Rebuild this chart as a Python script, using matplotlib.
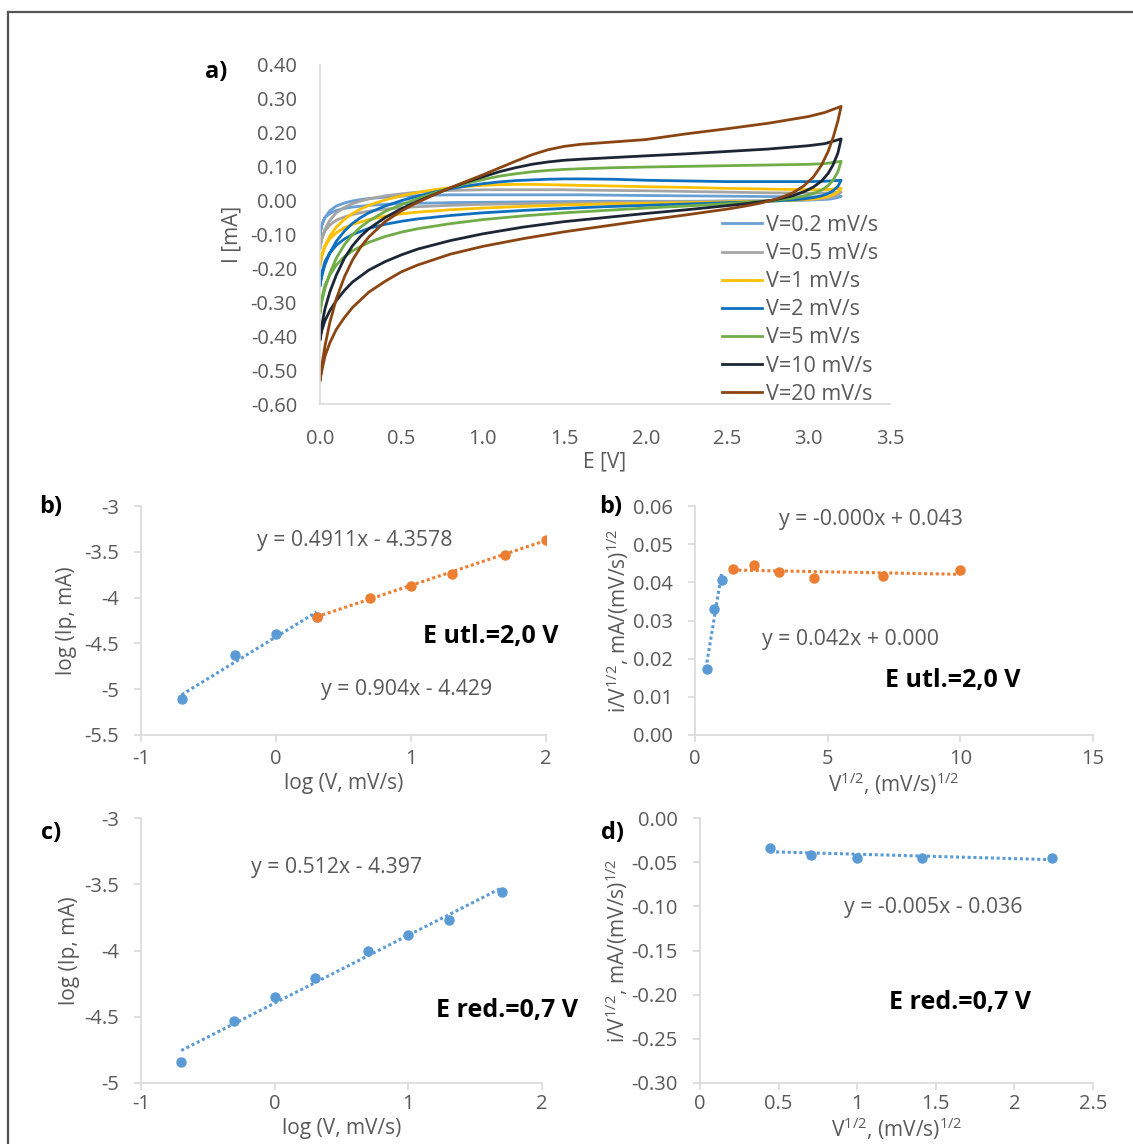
import numpy as np
import matplotlib
matplotlib.use("Agg")
import matplotlib.pyplot as plt
from matplotlib.lines import Line2D

plt.rcParams["font.family"] = ["Open Sans", "DejaVu Sans"]
plt.rcParams["axes.unicode_minus"] = False
plt.rcParams["mathtext.fontset"] = "custom"
plt.rcParams["mathtext.rm"] = "Open Sans"

# ---------------- a) cyclic voltammograms ----------------
scan_labels = ["V=0.2 mV/s", "V=0.5 mV/s", "V=1 mV/s", "V=2 mV/s",
               "V=5 mV/s", "V=10 mV/s", "V=20 mV/s"]
scan_colors = ["#6A9FD4", "#A5A5A5", "#FFC000", "#0E70BE",
               "#70AD47", "#1C2635", "#8A4512"]

# forward (anodic) sweep potentials, V
E_fwd = [0.0, 0.01, 0.03, 0.06, 0.1, 0.15, 0.2, 0.25, 0.3, 0.4, 0.5, 0.6, 0.7,
         0.8, 0.9, 1.0, 1.1, 1.2, 1.3, 1.4, 1.5, 1.6, 1.8, 2.0, 2.25, 2.5,
         2.75, 3.0, 3.1, 3.2]
# reverse (cathodic) sweep potentials, V
E_rev = [3.2, 3.18, 3.15, 3.12, 3.08, 3.03, 2.97, 2.9, 2.8, 2.7, 2.6, 2.5,
         2.25, 2.0, 1.75, 1.5, 1.25, 1.0, 0.8, 0.6, 0.5, 0.4, 0.3, 0.2, 0.15,
         0.1, 0.06, 0.03, 0.01, 0.0]

# current on the forward sweep, mA
I_fwd = [
    [-0.10, -0.075, -0.05, -0.03, -0.016, -0.007, -0.001, 0.003, 0.006, 0.010,
     0.013, 0.015, 0.016, 0.017, 0.017, 0.017, 0.017, 0.017, 0.017, 0.017,
     0.017, 0.017, 0.016, 0.015, 0.014, 0.013, 0.012, 0.011, 0.011, 0.013],
    [-0.14, -0.115, -0.085, -0.058, -0.036, -0.020, -0.009, -0.001, 0.005, 0.014,
     0.020, 0.025, 0.028, 0.030, 0.031, 0.032, 0.032, 0.032, 0.032, 0.032,
     0.032, 0.031, 0.030, 0.029, 0.027, 0.025, 0.023, 0.022, 0.022, 0.025],
    [-0.19, -0.165, -0.135, -0.105, -0.078, -0.055, -0.038, -0.025, -0.014, 0.002,
     0.014, 0.024, 0.032, 0.038, 0.042, 0.045, 0.047, 0.048, 0.048, 0.047,
     0.046, 0.045, 0.043, 0.041, 0.039, 0.036, 0.034, 0.032, 0.032, 0.036],
    [-0.25, -0.225, -0.19, -0.155, -0.12, -0.09, -0.067, -0.05, -0.036, -0.016,
     0.0, 0.013, 0.025, 0.035, 0.043, 0.050, 0.055, 0.059, 0.061, 0.063,
     0.064, 0.064, 0.063, 0.060, 0.058, 0.056, 0.056, 0.056, 0.057, 0.060],
    [-0.33, -0.30, -0.26, -0.215, -0.17, -0.13, -0.10, -0.078, -0.06, -0.032,
     -0.012, 0.006, 0.022, 0.037, 0.051, 0.062, 0.072, 0.079, 0.085, 0.089,
     0.092, 0.094, 0.097, 0.099, 0.101, 0.103, 0.105, 0.107, 0.109, 0.116],
    [-0.41, -0.37, -0.32, -0.27, -0.22, -0.17, -0.133, -0.105, -0.083, -0.05,
     -0.024, -0.002, 0.018, 0.037, 0.055, 0.070, 0.085, 0.097, 0.107, 0.114,
     0.119, 0.122, 0.127, 0.132, 0.138, 0.145, 0.152, 0.162, 0.168, 0.182],
    [-0.53, -0.49, -0.43, -0.36, -0.29, -0.225, -0.175, -0.137, -0.107, -0.062,
     -0.030, -0.005, 0.017, 0.038, 0.057, 0.076, 0.096, 0.116, 0.135, 0.150,
     0.160, 0.166, 0.173, 0.180, 0.197, 0.212, 0.228, 0.248, 0.260, 0.278],
]
# current on the reverse sweep, mA
I_rev = [
    [0.013, 0.009, 0.006, 0.004, 0.003, 0.002, 0.001, 0.0, 0.0, -0.001,
     -0.001, -0.001, -0.002, -0.002, -0.002, -0.003, -0.004, -0.005, -0.006, -0.008,
     -0.009, -0.011, -0.014, -0.019, -0.023, -0.029, -0.038, -0.05, -0.072, -0.10],
    [0.025, 0.017, 0.011, 0.008, 0.005, 0.003, 0.002, 0.001, 0.0, -0.001,
     -0.001, -0.002, -0.003, -0.004, -0.005, -0.007, -0.009, -0.011, -0.014, -0.018,
     -0.021, -0.025, -0.031, -0.041, -0.048, -0.058, -0.072, -0.09, -0.113, -0.14],
    [0.036, 0.025, 0.017, 0.012, 0.008, 0.005, 0.003, 0.001, -0.001, -0.002,
     -0.003, -0.004, -0.006, -0.008, -0.010, -0.013, -0.017, -0.022, -0.027, -0.034,
     -0.039, -0.046, -0.056, -0.07, -0.08, -0.095, -0.113, -0.135, -0.162, -0.19],
    [0.060, 0.042, 0.029, 0.021, 0.014, 0.009, 0.005, 0.002, -0.001, -0.003,
     -0.005, -0.006, -0.010, -0.014, -0.018, -0.023, -0.029, -0.036, -0.044, -0.054,
     -0.061, -0.07, -0.082, -0.10, -0.113, -0.132, -0.155, -0.18, -0.215, -0.25],
    [0.116, 0.085, 0.06, 0.044, 0.031, 0.021, 0.013, 0.007, 0.001, -0.003,
     -0.006, -0.009, -0.016, -0.022, -0.029, -0.036, -0.045, -0.056, -0.068, -0.083,
     -0.093, -0.106, -0.123, -0.148, -0.165, -0.19, -0.22, -0.25, -0.29, -0.33],
    [0.182, 0.14, 0.105, 0.08, 0.058, 0.04, 0.026, 0.014, 0.003, -0.004,
     -0.010, -0.015, -0.027, -0.038, -0.05, -0.062, -0.078, -0.098, -0.118, -0.143,
     -0.16, -0.18, -0.205, -0.24, -0.265, -0.295, -0.325, -0.355, -0.385, -0.41],
    [0.278, 0.235, 0.185, 0.145, 0.105, 0.07, 0.043, 0.022, 0.004, -0.008,
     -0.017, -0.025, -0.042, -0.058, -0.075, -0.092, -0.112, -0.135, -0.158, -0.19,
     -0.21, -0.238, -0.27, -0.315, -0.345, -0.38, -0.42, -0.46, -0.505, -0.53],
]

# ---------------- kinetics data ----------------
rate = [0.2, 0.5, 1, 2, 5, 10, 20, 50, 100]          # mV/s
log_rate = list(np.log10(rate))
sqrt_rate = list(np.sqrt(rate))

# b) oxidation, E = 2.0 V
logI_ox_low = [-5.11, -4.63, -4.40, -4.21]          # V = 0.2 ... 2
logI_ox_high = [-4.21, -4.00, -3.87, -3.74, -3.535, -3.37]  # V = 2 ... 100
fit_ox_low = (0.904, -4.429)
fit_ox_high = (0.4911, -4.3578)

iv_ox_low = [0.0172, 0.0331, 0.0406]                 # V = 0.2 ... 1
iv_ox_high = [0.0434, 0.0446, 0.0427, 0.0411, 0.0416, 0.0433]  # V = 2 ... 100
fit_iv_low = (0.042, 0.0002)
fit_iv_high = (-0.00013, 0.0434)

# c) / d) reduction, E = 0.7 V
logI_red = [-4.84, -4.535, -4.35, -4.21, -4.00, -3.88, -3.77, -3.555]  # V = 0.2 ... 50
fit_red = (0.512, -4.397)
iv_red = [-0.0335, -0.0415, -0.0455, -0.0448, -0.0455]    # V = 0.2 ... 5
fit_iv_red = (-0.005, -0.036)

BLUE = "#5B9BD5"
ORANGE = "#ED7D31"
GREY_TXT = "#595959"
SPINE = "#D9D9D9"
TICK_FS = 14.5
LABEL_FS = 15
EQ_FS = 15.3
NOTE_FS = 18
LETTER_FS = 17

W, H = 1133, 1144
fig = plt.figure(figsize=(W / 100, H / 100), dpi=100)


def px_axes(left, top, right, bottom):
    return fig.add_axes([left / W, 1 - bottom / H, (right - left) / W, (bottom - top) / H])


def style(ax, ticklen=5, xpad=5, ypad=11):
    for s in ("top", "right"):
        ax.spines[s].set_visible(False)
    for s in ("left", "bottom"):
        ax.spines[s].set_color(SPINE)
        ax.spines[s].set_linewidth(1.2)
    ax.tick_params(axis="both", colors=SPINE, labelcolor=GREY_TXT, labelsize=TICK_FS,
                   length=ticklen, width=1.2, direction="out")
    ax.tick_params(axis="x", pad=xpad)
    ax.tick_params(axis="y", pad=ypad)


def fmt(nd):
    return lambda v, p: f"{round(v, 6) + 0.0:.{nd}f}"


def fmt_general(v, p):
    return f"{round(v, 6) + 0.0:g}"


def equation(m, b, nd):
    sign = "+" if b >= 0 else "-"
    return f"y = {m:.{nd}f}x {sign} {abs(b):.{nd}f}"


def trend(ax, xs, fit, color):
    x = np.array([min(xs), max(xs)])
    ax.plot(x, fit[0] * x + fit[1], ls=(0, (1, 0.9)), lw=2.2, color=color, zorder=2)


def note(x, y, s, **kw):
    fig.text(x / W, 1 - y / H, s, ha="center", va="center", **kw)


# ---- panel a
ax = px_axes(320, 65, 890, 404)
style(ax, ticklen=0, xpad=18, ypad=16.5)
for lab, col, up, dn in zip(scan_labels, scan_colors, I_fwd, I_rev):
    ax.plot(E_fwd + E_rev, up + dn, color=col, lw=2.0, label=lab,
            solid_joinstyle="round")
ax.set_xlim(0, 3.5)
ax.set_ylim(-0.6, 0.4)
ax.set_xticks(np.arange(0, 3.51, 0.5))
ax.set_yticks(np.arange(-0.6, 0.401, 0.1))
ax.xaxis.set_major_formatter(fmt(1))
ax.yaxis.set_major_formatter(fmt(2))
ax.set_xlabel("E [V]", fontsize=LABEL_FS, color=GREY_TXT, labelpad=2)
ax.set_ylabel("I [mA]", fontsize=LABEL_FS, color=GREY_TXT, labelpad=6)
leg = ax.legend(loc="upper left", bbox_to_anchor=(722 / W, 1 - 215 / H),
                bbox_transform=fig.transFigure, frameon=False, fontsize=15.5,
                handlelength=1.86, handletextpad=0.19, labelspacing=0.33,
                borderpad=0, borderaxespad=0)
for t in leg.get_texts():
    t.set_color(GREY_TXT)
note(216, 72, "a)", fontsize=LETTER_FS, fontweight="bold")

# ---- panel b (left)
ax = px_axes(141, 506, 546, 735)
style(ax)
trend(ax, log_rate[:4], fit_ox_low, BLUE)
trend(ax, log_rate[3:], fit_ox_high, ORANGE)
ax.plot(log_rate[:4], logI_ox_low, "o", color=BLUE, ms=6.5, zorder=3)
ax.plot(log_rate[3:], logI_ox_high, "o", color=ORANGE, ms=6.5, zorder=4)
ax.set_xlim(-1, 2)
ax.set_ylim(-5.5, -3)
ax.set_xticks([-1, 0, 1, 2])
ax.set_yticks(np.arange(-5.5, -2.99, 0.5))
ax.yaxis.set_major_formatter(fmt_general)
ax.set_xlabel("log (V, mV/s)", fontsize=LABEL_FS, color=GREY_TXT, labelpad=3)
ax.set_ylabel("log (Ip, mA)", fontsize=LABEL_FS, color=GREY_TXT, labelpad=5)
note(355, 540, equation(*fit_ox_high, 4), fontsize=EQ_FS, color=GREY_TXT)
note(407, 690, equation(*fit_ox_low, 3), fontsize=EQ_FS, color=GREY_TXT)
note(491, 637, "E utl.=2,0 V", fontsize=NOTE_FS, fontweight="bold")
note(51, 507, "b)", fontsize=LETTER_FS, fontweight="bold")

# ---- panel b (right)
ax = px_axes(695, 506, 1093, 735)
style(ax)
trend(ax, sqrt_rate[:3], fit_iv_low, BLUE)
trend(ax, sqrt_rate[3:], fit_iv_high, ORANGE)
ax.plot(sqrt_rate[:3], iv_ox_low, "o", color=BLUE, ms=6.5, zorder=3)
ax.plot(sqrt_rate[3:], iv_ox_high, "o", color=ORANGE, ms=6.5, zorder=4)
ax.set_xlim(0, 15)
ax.set_ylim(0, 0.06)
ax.set_xticks([0, 5, 10, 15])
ax.set_yticks(np.arange(0, 0.061, 0.01))
ax.yaxis.set_major_formatter(fmt(2))
ax.set_xlabel(r"V$^{\mathregular{1/2}}$, (mV/s)$^{\mathregular{1/2}}$", fontsize=LABEL_FS,
              color=GREY_TXT, labelpad=1)
ax.set_ylabel(r"i/V$^{\mathregular{1/2}}$, mA/(mV/s)$^{\mathregular{1/2}}$", fontsize=LABEL_FS,
              color=GREY_TXT, labelpad=1)
note(871, 520, equation(*fit_iv_high, 3), fontsize=EQ_FS, color=GREY_TXT)
note(850, 639, equation(*fit_iv_low, 3), fontsize=EQ_FS, color=GREY_TXT)
note(953, 681, "E utl.=2,0 V", fontsize=NOTE_FS, fontweight="bold")
note(611, 507, "b)", fontsize=LETTER_FS, fontweight="bold")

# ---- panel c
ax = px_axes(141, 818, 542, 1083)
style(ax, xpad=3)
trend(ax, log_rate[:8], fit_red, BLUE)
ax.plot(log_rate[:8], logI_red, "o", color=BLUE, ms=6.5, zorder=3)
ax.set_xlim(-1, 2)
ax.set_ylim(-5, -3)
ax.set_xticks([-1, 0, 1, 2])
ax.set_yticks(np.arange(-5, -2.99, 0.5))
ax.yaxis.set_major_formatter(fmt_general)
ax.set_xlabel("log (V, mV/s)", fontsize=LABEL_FS, color=GREY_TXT, labelpad=3)
ax.set_ylabel("log (Ip, mA)", fontsize=LABEL_FS, color=GREY_TXT, labelpad=3)
note(337, 868, equation(*fit_red, 3), fontsize=EQ_FS, color=GREY_TXT)
note(507, 1011, "E red.=0,7 V", fontsize=NOTE_FS, fontweight="bold")
note(51, 833, "c)", fontsize=LETTER_FS, fontweight="bold")

# ---- panel d
ax = px_axes(700, 818, 1093, 1083)
style(ax, xpad=3)
trend(ax, sqrt_rate[:5], fit_iv_red, BLUE)
ax.plot(sqrt_rate[:5], iv_red, "o", color=BLUE, ms=6.5, zorder=3)
ax.set_xlim(0, 2.5)
ax.set_ylim(-0.3, 0)
ax.set_xticks(np.arange(0, 2.51, 0.5))
ax.set_yticks(np.arange(-0.3, 0.001, 0.05))
ax.xaxis.set_major_formatter(fmt_general)
ax.yaxis.set_major_formatter(fmt(2))
ax.set_xlabel(r"V$^{\mathregular{1/2}}$, (mV/s)$^{\mathregular{1/2}}$", fontsize=LABEL_FS,
              color=GREY_TXT, labelpad=1)
ax.set_ylabel(r"i/V$^{\mathregular{1/2}}$, mA/(mV/s)$^{\mathregular{1/2}}$", fontsize=LABEL_FS,
              color=GREY_TXT, labelpad=1)
note(933, 908, equation(*fit_iv_red, 3), fontsize=EQ_FS, color=GREY_TXT)
note(960, 1003, "E red.=0,7 V", fontsize=NOTE_FS, fontweight="bold")
note(613, 833, "d)", fontsize=LETTER_FS, fontweight="bold")

# outer frame (top and left edges)
fig.add_artist(Line2D([8 / W, 1.0], [1 - 12 / H, 1 - 12 / H], color="#555555", lw=1.6,
                      transform=fig.transFigure))
fig.add_artist(Line2D([8 / W, 8 / W], [0.0, 1 - 12 / H], color="#555555", lw=1.6,
                      transform=fig.transFigure))

fig.savefig("out.png", dpi=100, facecolor="white")
